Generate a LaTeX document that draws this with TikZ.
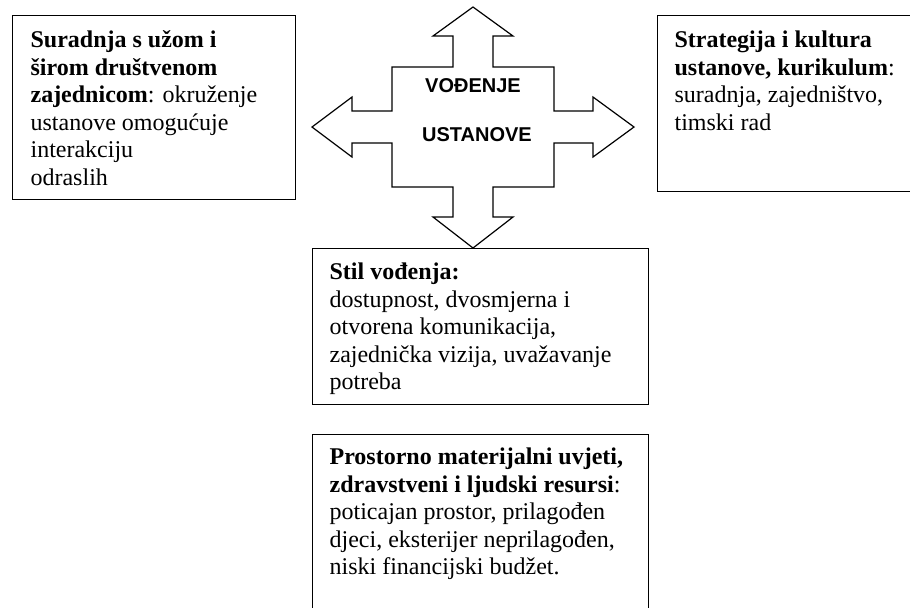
\documentclass[tikz,border=0pt]{standalone}
\usepackage{fontspec}
\setmainfont{Liberation Serif}
\newfontfamily\crossfont{Liberation Sans}
\usetikzlibrary{positioning}

\begin{document}
\begin{tikzpicture}[x=0.5pt, y=-0.5pt, line width=0.6pt]
    \tikzset{
        infobox/.style={draw, rectangle, anchor=north west, inner sep=0pt},
        infotext/.style={anchor=north west, align=left, inner sep=0pt, font=\fontsize{12}{13.75}\selectfont},
        crosslabel/.style={anchor=base, inner sep=0pt, font=\crossfont\bfseries\fontsize{10}{12}\selectfont}
    }
    \useasboundingbox (0,0) rectangle (910,607);
    \clip (0,0) rectangle (910,607);

    % central cross with four arrows
    \draw (473,7) -- (513,36) -- (493,36) -- (493,67) -- (554,67) -- (554,111) -- (593,111) -- (593,97)
        -- (634,127) -- (593,157) -- (593,143) -- (554,143) -- (554,187) -- (493,187) -- (493,217)
        -- (513,217) -- (473,248) -- (433,217) -- (453,217) -- (453,187) -- (392,187) -- (392,143)
        -- (352,143) -- (352,157) -- (312,127) -- (352,97) -- (352,111) -- (392,111) -- (392,67)
        -- (453,67) -- (453,36) -- (433,36) -- cycle;
    \node [crosslabel] (vodjenje) at (473,92) {VOĐENJE};
    \node [crosslabel] (ustanove) at (477,141) {USTANOVE};

    % boxes
    \node [infobox, minimum width=141.5pt, minimum height=92pt] (suradnja) at (12,15) {};
    \node [infobox, minimum width=136.5pt, minimum height=88pt] (strategija) at (657,15) {};
    \node [infobox, minimum width=168pt, minimum height=78pt] (stil) at (312,248) {};
    \node [infobox, minimum width=168pt, minimum height=98pt] (uvjeti) at (312,434) {};

    \node [infotext, below right=6pt and 9pt of suradnja.north west] (suradnjatxt)
        {\rule{0pt}{10pt}\textbf{Suradnja s užom i}\\\textbf{širom društvenom}\\\textbf{zajednicom}: okruženje\\ustanove omogućuje\\interakciju\\odraslih};
    \node [infotext, below right=6pt and 8.5pt of strategija.north west] (strategijatxt)
        {\rule{0pt}{10pt}\textbf{Strategija i kultura}\\\textbf{ustanove, kurikulum}:\\suradnja, zajedništvo,\\timski rad};
    \node [infotext, below right=5.5pt and 8.5pt of stil.north west] (stiltxt)
        {\rule{0pt}{10pt}\textbf{Stil vođenja:}\\dostupnost, dvosmjerna i\\otvorena komunikacija,\\zajednička vizija, uvažavanje\\potreba};
    \node [infotext, below right=5pt and 8.5pt of uvjeti.north west] (uvjetitxt)
        {\rule{0pt}{10pt}\textbf{Prostorno materijalni uvjeti,}\\\textbf{zdravstveni i ljudski resursi}:\\poticajan prostor, prilagođen\\djeci, eksterijer neprilagođen,\\niski financijski budžet.};
\end{tikzpicture}
\end{document}
